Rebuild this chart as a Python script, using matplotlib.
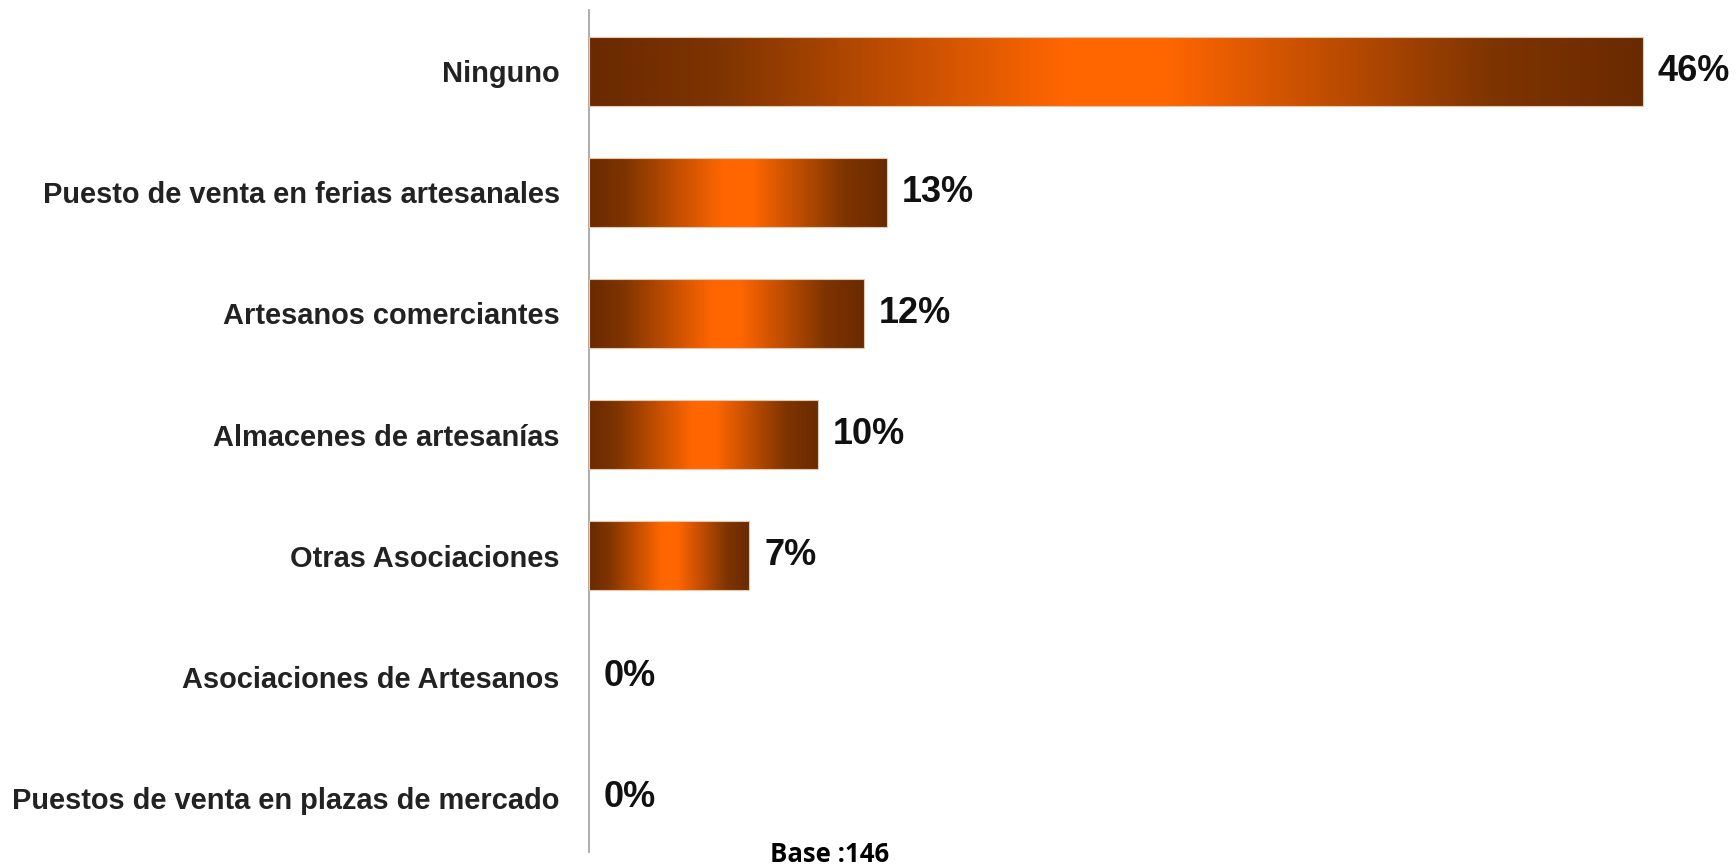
import numpy as np
import matplotlib
matplotlib.use("Agg")
import matplotlib.pyplot as plt
from matplotlib.colors import LinearSegmentedColormap

categories = [
    "Ninguno",
    "Puesto de venta en ferias artesanales",
    "Artesanos comerciantes",
    "Almacenes de artesanías",
    "Otras Asociaciones",
    "Asociaciones de Artesanos",
    "Puestos de venta en plazas de mercado",
]
values = [46, 13, 12, 10, 7, 0, 0]
value_labels = ["46%", "13%", "12%", "10%", "7%", "0%", "0%"]
base_text = "Base :146"

W, H, DPI = 1736, 866, 100
fig = plt.figure(figsize=(W / DPI, H / DPI), dpi=DPI)
ax_left, ax_right = 589, 1700
ax_top, ax_bottom = 10, 852
ax = fig.add_axes([ax_left / W, 1 - ax_bottom / H, (ax_right - ax_left) / W, (ax_bottom - ax_top) / H])

px_per_unit = (1643 - 589) / 46.0
ax.set_xlim(0, (ax_right - ax_left) / px_per_unit)
ax.set_ylim(6.45, -0.508)

cmap = LinearSegmentedColormap.from_list(
    "bar",
    [(0.0, "#6A2A00"), (0.12, "#7E3400"), (0.45, "#FF6600"), (0.55, "#FF6600"),
     (0.86, "#7E3400"), (1.0, "#6A2A00")],
)
grad = np.linspace(0, 1, 256).reshape(1, -1)

ypos = np.arange(len(categories))
bar_h = 0.57
bars = ax.barh(ypos, values, height=bar_h, color="none", edgecolor="#E8C8A8",
               linewidth=[0.8 if v > 0 else 0 for v in values], zorder=3)
for rect, v in zip(bars, values):
    if v <= 0:
        continue
    x0, y0 = rect.get_x(), rect.get_y()
    w, h = rect.get_width(), rect.get_height()
    im = ax.imshow(grad, cmap=cmap, aspect="auto", extent=[x0, x0 + w, y0 + h, y0],
                   interpolation="bilinear", zorder=2)
    im.set_clip_path(rect)

gap = 15 / px_per_unit
for y, v, lab in zip(ypos, values, value_labels):
    ax.text(v + gap, y, lab, va="center", ha="left", fontsize=26, fontweight="bold",
            family="Liberation Sans", color="#111111")

ax.set_yticks(ypos)
ax.set_yticklabels(categories, fontsize=20.9, fontweight="bold", family="Liberation Sans", color="#222222")
ax.tick_params(axis="y", length=0, pad=21)
ax.set_xticks([])
for s in ["top", "right", "bottom"]:
    ax.spines[s].set_visible(False)
ax.spines["left"].set_color("#A6A6A6")
ax.spines["left"].set_linewidth(1.3)

fig.text(830 / W, 1 - 855 / H, base_text, ha="center", va="center", fontsize=18.5,
         fontweight="bold", family="Open Sans", color="#000000")

fig.savefig("out.png", dpi=DPI, facecolor="white")
